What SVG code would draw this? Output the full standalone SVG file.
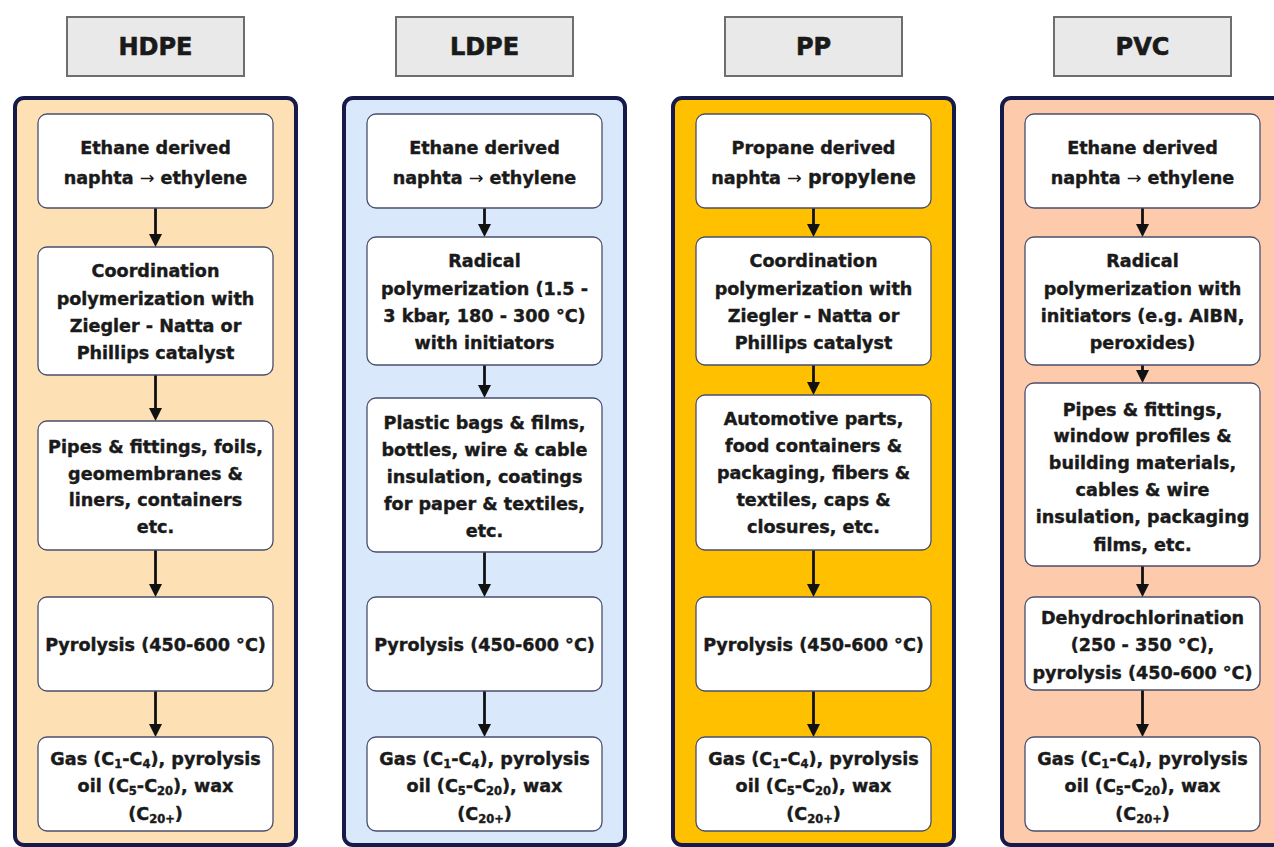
<svg xmlns="http://www.w3.org/2000/svg" width="1274" height="847" viewBox="0 0 1274 847">
<style>
.hdr rect{fill:#e9e9e9;stroke:#6e6e6e;stroke-width:2}
.hdr text{font-family:"DejaVu Sans","Liberation Sans",sans-serif;font-weight:bold;font-size:24px;fill:#1a1a1a;stroke:#1a1a1a;stroke-width:0.6;text-anchor:middle}
.col{stroke:#161a4a;stroke-width:4}
.node rect{fill:#ffffff;stroke:#4a4f6e;stroke-width:1.3}
.node text{font-family:"DejaVu Sans","Liberation Sans",sans-serif;font-weight:bold;font-size:17.6px;fill:#1a1a1a;stroke:#1a1a1a;stroke-width:0.4;text-anchor:middle}
.sub{font-size:11.5px}
.arr{font-weight:normal;stroke-width:0}
.conn line{stroke:#111;stroke-width:2.8}
</style>
<defs>
<marker id="ah" viewBox="0 0 13 14" refX="5" refY="7" markerWidth="13" markerHeight="14" markerUnits="userSpaceOnUse" orient="auto">
<path d="M0,0.5 L13,7 L0,13.5 z" fill="#111"/>
</marker>
</defs>

<!-- headers -->
<g id="hdr-hdpe" class="hdr"><rect x="67" y="17" width="177" height="59"/><text x="155.5" y="55">HDPE</text></g>
<g id="hdr-ldpe" class="hdr"><rect x="396" y="17" width="177" height="59"/><text x="484.5" y="55">LDPE</text></g>
<g id="hdr-pp" class="hdr"><rect x="725" y="17" width="177" height="59"/><text x="813.5" y="55">PP</text></g>
<g id="hdr-pvc" class="hdr"><rect x="1054" y="17" width="177" height="59"/><text x="1142.5" y="55">PVC</text></g>

<!-- columns -->
<g id="col-hdpe"><rect class="col" x="15" y="98" width="281" height="747" rx="9" fill="#fde1b4"/></g>
<g id="col-ldpe"><rect class="col" x="344" y="98" width="281" height="747" rx="9" fill="#dae8fc"/></g>
<g id="col-pp"><rect class="col" x="673" y="98" width="281" height="747" rx="9" fill="#ffc000"/></g>
<g id="col-pvc"><rect class="col" x="1002" y="98" width="281" height="747" rx="9" fill="#fdcbab"/></g>

<!-- connectors -->
<g id="connectors" class="conn">
<line x1="155.5" y1="208" x2="155.5" y2="239" marker-end="url(#ah)"/>
<line x1="155.5" y1="375" x2="155.5" y2="413" marker-end="url(#ah)"/>
<line x1="155.5" y1="550" x2="155.5" y2="589" marker-end="url(#ah)"/>
<line x1="155.5" y1="691" x2="155.5" y2="729" marker-end="url(#ah)"/>

<line x1="484.5" y1="208" x2="484.5" y2="229" marker-end="url(#ah)"/>
<line x1="484.5" y1="365" x2="484.5" y2="390" marker-end="url(#ah)"/>
<line x1="484.5" y1="552" x2="484.5" y2="589" marker-end="url(#ah)"/>
<line x1="484.5" y1="691" x2="484.5" y2="729" marker-end="url(#ah)"/>

<line x1="813.5" y1="208" x2="813.5" y2="229" marker-end="url(#ah)"/>
<line x1="813.5" y1="365" x2="813.5" y2="387" marker-end="url(#ah)"/>
<line x1="813.5" y1="550" x2="813.5" y2="589" marker-end="url(#ah)"/>
<line x1="813.5" y1="691" x2="813.5" y2="729" marker-end="url(#ah)"/>

<line x1="1142.5" y1="208" x2="1142.5" y2="229" marker-end="url(#ah)"/>
<line x1="1142.5" y1="365" x2="1142.5" y2="375" marker-end="url(#ah)"/>
<line x1="1142.5" y1="566" x2="1142.5" y2="589" marker-end="url(#ah)"/>
<line x1="1142.5" y1="690" x2="1142.5" y2="729" marker-end="url(#ah)"/>
</g>

<!-- HDPE nodes -->
<g id="hdpe-1" class="node"><rect x="38" y="114" width="235" height="94" rx="9"/>
<text x="155.5" y="154">Ethane derived</text>
<text x="155.5" y="184">naphta <tspan class="arr">→</tspan> ethylene</text></g>
<g id="hdpe-2" class="node"><rect x="38" y="247" width="235" height="128" rx="9"/>
<text x="155.5" y="277">Coordination</text>
<text x="155.5" y="305">polymerization with</text>
<text x="155.5" y="332">Ziegler - Natta or</text>
<text x="155.5" y="359">Phillips catalyst</text></g>
<g id="hdpe-3" class="node"><rect x="38" y="421" width="235" height="129" rx="9"/>
<text x="155.5" y="453">Pipes &amp; fittings, foils,</text>
<text x="155.5" y="480">geomembranes &amp;</text>
<text x="155.5" y="506">liners, containers</text>
<text x="155.5" y="533">etc.</text></g>
<g id="hdpe-4" class="node"><rect x="38" y="597" width="235" height="94" rx="9"/>
<text x="155.5" y="651">Pyrolysis (450-600 °C)</text></g>
<g id="hdpe-5" class="node"><rect x="38" y="737" width="235" height="94" rx="9"/>
<text x="155.5" y="765">Gas (C<tspan class="sub" dy="3">1</tspan><tspan dy="-3">-C</tspan><tspan class="sub" dy="3">4</tspan><tspan dy="-3">), pyrolysis</tspan></text>
<text x="155.5" y="792">oil (C<tspan class="sub" dy="3">5</tspan><tspan dy="-3">-C</tspan><tspan class="sub" dy="3">20</tspan><tspan dy="-3">), wax</tspan></text>
<text x="155.5" y="820">(C<tspan class="sub" dy="3">20+</tspan><tspan dy="-3">)</tspan></text></g>

<!-- LDPE nodes -->
<g id="ldpe-1" class="node"><rect x="367" y="114" width="235" height="94" rx="9"/>
<text x="484.5" y="154">Ethane derived</text>
<text x="484.5" y="184">naphta <tspan class="arr">→</tspan> ethylene</text></g>
<g id="ldpe-2" class="node"><rect x="367" y="237" width="235" height="128" rx="9"/>
<text x="484.5" y="267">Radical</text>
<text x="484.5" y="295">polymerization (1.5 -</text>
<text x="484.5" y="322">3 kbar, 180 - 300 °C)</text>
<text x="484.5" y="349">with initiators</text></g>
<g id="ldpe-3" class="node"><rect x="367" y="398" width="235" height="154" rx="9"/>
<text x="484.5" y="429">Plastic bags &amp; films,</text>
<text x="484.5" y="456">bottles, wire &amp; cable</text>
<text x="484.5" y="483">insulation, coatings</text>
<text x="484.5" y="510">for paper &amp; textiles,</text>
<text x="484.5" y="537">etc.</text></g>
<g id="ldpe-4" class="node"><rect x="367" y="597" width="235" height="94" rx="9"/>
<text x="484.5" y="651">Pyrolysis (450-600 °C)</text></g>
<g id="ldpe-5" class="node"><rect x="367" y="737" width="235" height="94" rx="9"/>
<text x="484.5" y="765">Gas (C<tspan class="sub" dy="3">1</tspan><tspan dy="-3">-C</tspan><tspan class="sub" dy="3">4</tspan><tspan dy="-3">), pyrolysis</tspan></text>
<text x="484.5" y="792">oil (C<tspan class="sub" dy="3">5</tspan><tspan dy="-3">-C</tspan><tspan class="sub" dy="3">20</tspan><tspan dy="-3">), wax</tspan></text>
<text x="484.5" y="820">(C<tspan class="sub" dy="3">20+</tspan><tspan dy="-3">)</tspan></text></g>

<!-- PP nodes -->
<g id="pp-1" class="node"><rect x="696" y="114" width="235" height="94" rx="9"/>
<text x="813.5" y="154">Propane derived</text>
<text x="813.5" y="184">naphta <tspan class="arr">→</tspan> <tspan style="font-size:19px">propylene</tspan></text></g>
<g id="pp-2" class="node"><rect x="696" y="237" width="235" height="128" rx="9"/>
<text x="813.5" y="267">Coordination</text>
<text x="813.5" y="295">polymerization with</text>
<text x="813.5" y="322">Ziegler - Natta or</text>
<text x="813.5" y="349">Phillips catalyst</text></g>
<g id="pp-3" class="node"><rect x="696" y="395" width="235" height="155" rx="9"/>
<text x="813.5" y="425">Automotive parts,</text>
<text x="813.5" y="452">food containers &amp;</text>
<text x="813.5" y="479">packaging, fibers &amp;</text>
<text x="813.5" y="506">textiles, caps &amp;</text>
<text x="813.5" y="533">closures, etc.</text></g>
<g id="pp-4" class="node"><rect x="696" y="597" width="235" height="94" rx="9"/>
<text x="813.5" y="651">Pyrolysis (450-600 °C)</text></g>
<g id="pp-5" class="node"><rect x="696" y="737" width="235" height="94" rx="9"/>
<text x="813.5" y="765">Gas (C<tspan class="sub" dy="3">1</tspan><tspan dy="-3">-C</tspan><tspan class="sub" dy="3">4</tspan><tspan dy="-3">), pyrolysis</tspan></text>
<text x="813.5" y="792">oil (C<tspan class="sub" dy="3">5</tspan><tspan dy="-3">-C</tspan><tspan class="sub" dy="3">20</tspan><tspan dy="-3">), wax</tspan></text>
<text x="813.5" y="820">(C<tspan class="sub" dy="3">20+</tspan><tspan dy="-3">)</tspan></text></g>

<!-- PVC nodes -->
<g id="pvc-1" class="node"><rect x="1025" y="114" width="235" height="94" rx="9"/>
<text x="1142.5" y="154">Ethane derived</text>
<text x="1142.5" y="184">naphta <tspan class="arr">→</tspan> ethylene</text></g>
<g id="pvc-2" class="node"><rect x="1025" y="237" width="235" height="128" rx="9"/>
<text x="1142.5" y="267">Radical</text>
<text x="1142.5" y="295">polymerization with</text>
<text x="1142.5" y="322">initiators (e.g. AIBN,</text>
<text x="1142.5" y="349">peroxides)</text></g>
<g id="pvc-3" class="node"><rect x="1025" y="383" width="235" height="183" rx="9"/>
<text x="1142.5" y="416">Pipes &amp; fittings,</text>
<text x="1142.5" y="442">window profiles &amp;</text>
<text x="1142.5" y="469">building materials,</text>
<text x="1142.5" y="496">cables &amp; wire</text>
<text x="1142.5" y="523">insulation, packaging</text>
<text x="1142.5" y="551">films, etc.</text></g>
<g id="pvc-4" class="node"><rect x="1025" y="597" width="235" height="93" rx="9"/>
<text x="1142.5" y="624">Dehydrochlorination</text>
<text x="1142.5" y="651">(250 - 350 °C),</text>
<text x="1142.5" y="679">pyrolysis (450-600 °C)</text></g>
<g id="pvc-5" class="node"><rect x="1025" y="737" width="235" height="94" rx="9"/>
<text x="1142.5" y="765">Gas (C<tspan class="sub" dy="3">1</tspan><tspan dy="-3">-C</tspan><tspan class="sub" dy="3">4</tspan><tspan dy="-3">), pyrolysis</tspan></text>
<text x="1142.5" y="792">oil (C<tspan class="sub" dy="3">5</tspan><tspan dy="-3">-C</tspan><tspan class="sub" dy="3">20</tspan><tspan dy="-3">), wax</tspan></text>
<text x="1142.5" y="820">(C<tspan class="sub" dy="3">20+</tspan><tspan dy="-3">)</tspan></text></g>
</svg>
